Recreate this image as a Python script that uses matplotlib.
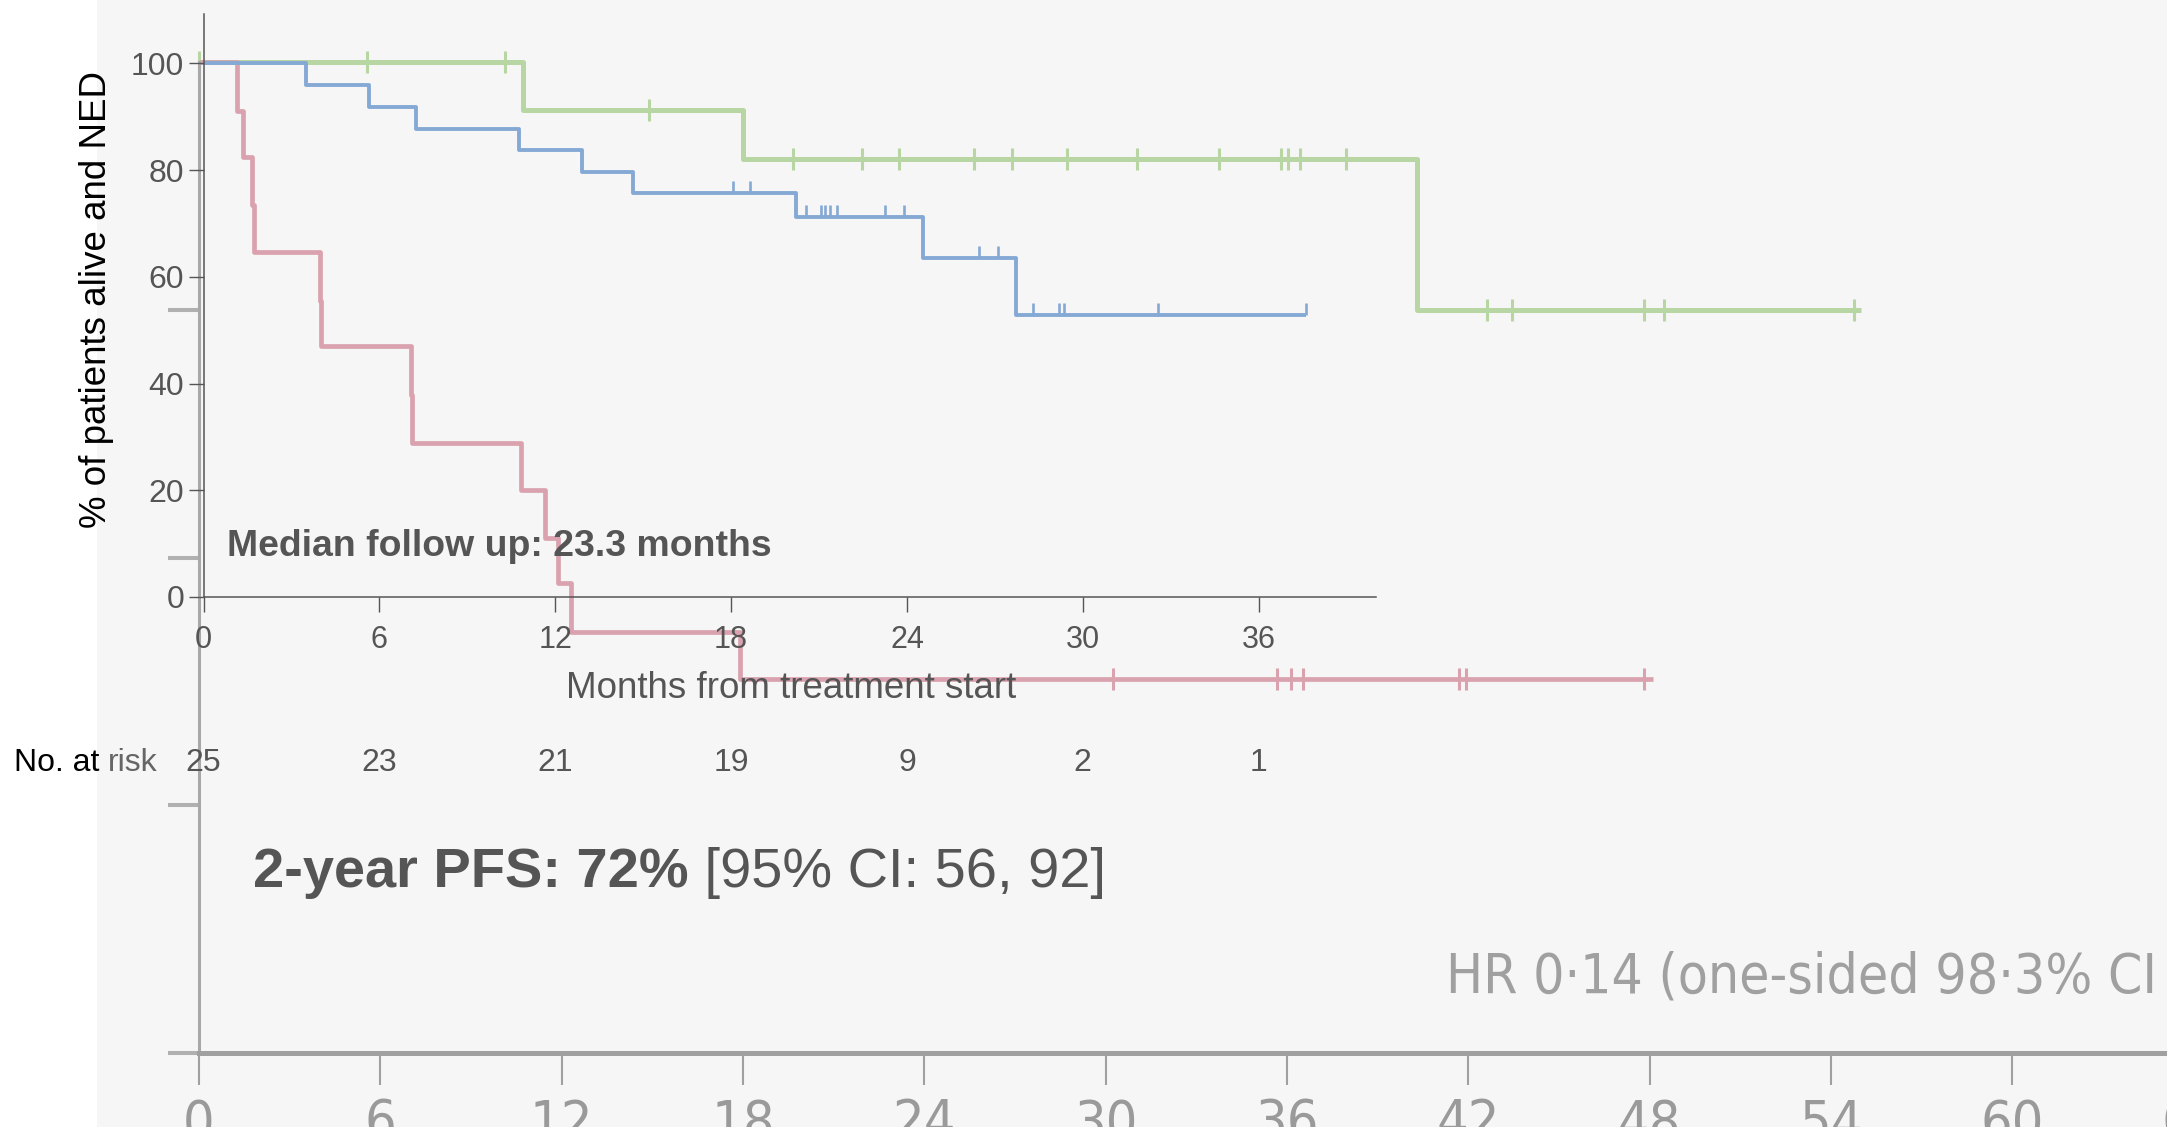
import matplotlib
matplotlib.use('Agg')
import matplotlib.pyplot as plt
import numpy as np
from matplotlib.patches import Rectangle
from matplotlib import font_manager as fm

# ---------------- data ----------------
# background curves (months, % on the large background axis)
green_t = [0, 10.72, 18.01, 40.31, 55.0]
green_s = [100, 95.2, 90.2, 75.0, 75.0]
green_cens = [0, 5.55, 10.13, 14.89, 19.65, 21.93, 23.15, 25.65, 26.89, 28.72,
              31.03, 33.75, 35.81, 36.02, 36.43, 37.97, 42.62, 43.44, 47.81,
              48.49, 54.76]

red_t = [0, 1.26, 1.47, 1.74, 1.82, 4.0, 4.05, 7.0, 7.05, 10.64, 11.45, 11.87,
         12.3, 17.9, 48.1]
red_s = [100, 95.1, 90.4, 85.6, 80.8, 75.9, 71.3, 66.4, 61.6, 56.8, 52.0, 47.4,
         42.5, 37.7, 37.7]
red_cens = [30.26, 35.67, 36.13, 36.53, 41.70, 41.94, 47.81]

# inner chart curve
blue_t = [0, 3.5, 5.63, 7.24, 10.76, 12.9, 14.64, 20.21, 24.55, 27.71, 37.63]
blue_s = [100, 96.0, 91.9, 87.8, 83.7, 79.6, 75.7, 71.3, 63.5, 52.8, 52.8]
blue_cens = [18.07, 18.65, 20.56, 21.07, 21.2, 21.37, 21.62, 23.25, 23.9, 26.46,
             27.1, 28.29, 29.2, 29.35, 32.58, 37.63]

risk_times = [0, 6, 12, 18, 24, 30, 36]
risk_counts = [25, 23, 21, 19, 9, 2, 1]

inner_xticks = [0, 6, 12, 18, 24, 30, 36]
inner_yticks = [0, 20, 40, 60, 80, 100]
bg_xticks = list(range(0, 67, 6))
bg_yticks = [0, 25, 50, 75]

# ---------------- style ----------------
W, H = 2167, 1127
plt.rcParams['font.family'] = ['Liberation Sans', 'DejaVu Sans']

GREEN = '#b8d5a4'
RED = '#d9a2ae'
BLUE = '#85a9d5'
DARK = '#555555'

# look for an installed condensed sans face for the Lancet-style texts
cond = None
for f in fm.fontManager.ttflist:
    narrowish = ('Narrow' in f.name or 'Condensed' in f.name or
                 str(f.stretch) in ('condensed', 'semi-condensed', 'extra-condensed'))
    if narrowish and f.style == 'normal' and f.weight in (400, 'normal', 'regular') \
            and 'Mono' not in f.name and 'Serif' not in f.name:
        cond = f.fname
        break


def cond_props(size_cond, size_reg):
    if cond is not None:
        return fm.FontProperties(fname=cond, size=size_cond)
    return fm.FontProperties(family=['Liberation Sans', 'DejaVu Sans'], size=size_reg)


def fx(x):
    return x / W


def fy(y):
    return 1 - y / H


def step_at(ts, ss, t):
    idx = np.searchsorted(np.asarray(ts), t, side='right') - 1
    idx = np.clip(idx, 0, len(ss) - 1)
    return np.asarray(ss)[idx]


fig = plt.figure(figsize=(W / 100, H / 100), dpi=100, facecolor='white')
fig.add_artist(Rectangle((fx(97), 0), 1 - fx(97), 1, transform=fig.transFigure,
                         facecolor='#f6f6f6', edgecolor='none', zorder=-10))

# ---------------- background axes ----------------
axb = fig.add_axes([fx(199), 74 / H, 2055 / W, 991 / H])
axb.set_facecolor('none')
axb.set_xlim(0, 68)
axb.set_ylim(0, 100)
for s in ['top', 'right']:
    axb.spines[s].set_visible(False)
axb.spines['left'].set_color('#a8a8a8')
axb.spines['left'].set_linewidth(2.2)
axb.spines['bottom'].set_color('#a0a0a0')
axb.spines['bottom'].set_linewidth(3.6)
axb.set_xticks(bg_xticks)
tick_fp = cond_props(40, 36)
axb.set_xticklabels([str(v) for v in bg_xticks], fontproperties=tick_fp)
axb.tick_params(axis='x', length=23, width=1.5, color='#a0a0a0',
                labelcolor='#9a9a9a', pad=9)
axb.set_yticks(bg_yticks)
axb.tick_params(axis='y', length=22, width=2.9, color='#b0b0b0', labelleft=False)

axb.plot(green_t, green_s, drawstyle='steps-post', color=GREEN, lw=3.6,
         clip_on=False, solid_capstyle='butt')
axb.plot(green_cens, step_at(green_t, green_s, green_cens), ls='none', marker='|',
         ms=16, mew=2.2, color=GREEN, clip_on=False)
axb.plot(red_t, red_s, drawstyle='steps-post', color=RED, lw=3.4, clip_on=False,
         solid_capstyle='butt')
axb.plot(red_cens, step_at(red_t, red_s, red_cens), ls='none', marker='|',
         ms=16, mew=2.2, color=RED, clip_on=False)

# ---------------- inner axes ----------------
axi = fig.add_axes([fx(203.5), (H - 597) / H, 1172.4 / W, 583.2 / H])
axi.set_facecolor('none')
axi.set_xlim(0, 40)
axi.set_ylim(0, 109.3)
for s in ['top', 'right']:
    axi.spines[s].set_visible(False)
for s in ['left', 'bottom']:
    axi.spines[s].set_color(DARK)
    axi.spines[s].set_linewidth(1.1)
axi.set_xticks(inner_xticks)
axi.set_yticks(inner_yticks)
axi.tick_params(axis='both', length=11, width=1.0, color=DARK, labelsize=23,
                labelcolor=DARK)
axi.tick_params(axis='x', labelsize=22, pad=9)
axi.tick_params(axis='y', pad=3)

axi.plot(blue_t, blue_s, drawstyle='steps-post', color=BLUE, lw=2.8, clip_on=False,
         solid_capstyle='butt')
axi.plot(blue_cens, step_at(blue_t, blue_s, blue_cens), ls='none', marker=2,
         ms=8.5, mew=1.9, color=BLUE, clip_on=False)

# number at risk
for t, n in zip(risk_times, risk_counts):
    axi.text(t, -31.1, str(n), ha='center', va='center', fontsize=23, color=DARK,
             clip_on=False)

# ---------------- texts ----------------
fig.text(fx(97), fy(300), '% of patients alive and NED', rotation=90,
         ha='center', va='center', fontsize=26.5, color='black')
fig.text(fx(791), fy(688), 'Months from treatment start', ha='center',
         va='center', fontsize=26.5, color=DARK)
fig.text(fx(227), fy(546), 'Median follow up: 23.3 months', ha='left',
         va='center', fontsize=26.9, fontweight='bold', color=DARK)

t1 = fig.text(fx(14), fy(763), 'No. at ', ha='left', va='center', fontsize=23,
              color='black')
axi.annotate('risk', xy=(1, 0), xycoords=t1, ha='left', va='bottom',
             fontsize=23, color='#666666', annotation_clip=False)

p1 = fig.text(fx(253), fy(873), '2-year PFS: 72%', ha='left', va='center',
              fontsize=40.3, fontweight='bold', color=DARK)
axi.annotate(' [95% CI: 56, 92]', xy=(1, 0), xycoords=p1, ha='left',
             va='bottom', fontsize=40.3, color=DARK, annotation_clip=False)

hr_fp = cond_props(39.5, 39.5)
fig.text(fx(1446), fy(992), 'HR 0·14 (one-sided 98·3% CI', ha='left',
         va='baseline', fontproperties=hr_fp, color='#a0a0a0')

fig.savefig('out.png', dpi=100, facecolor='white')
